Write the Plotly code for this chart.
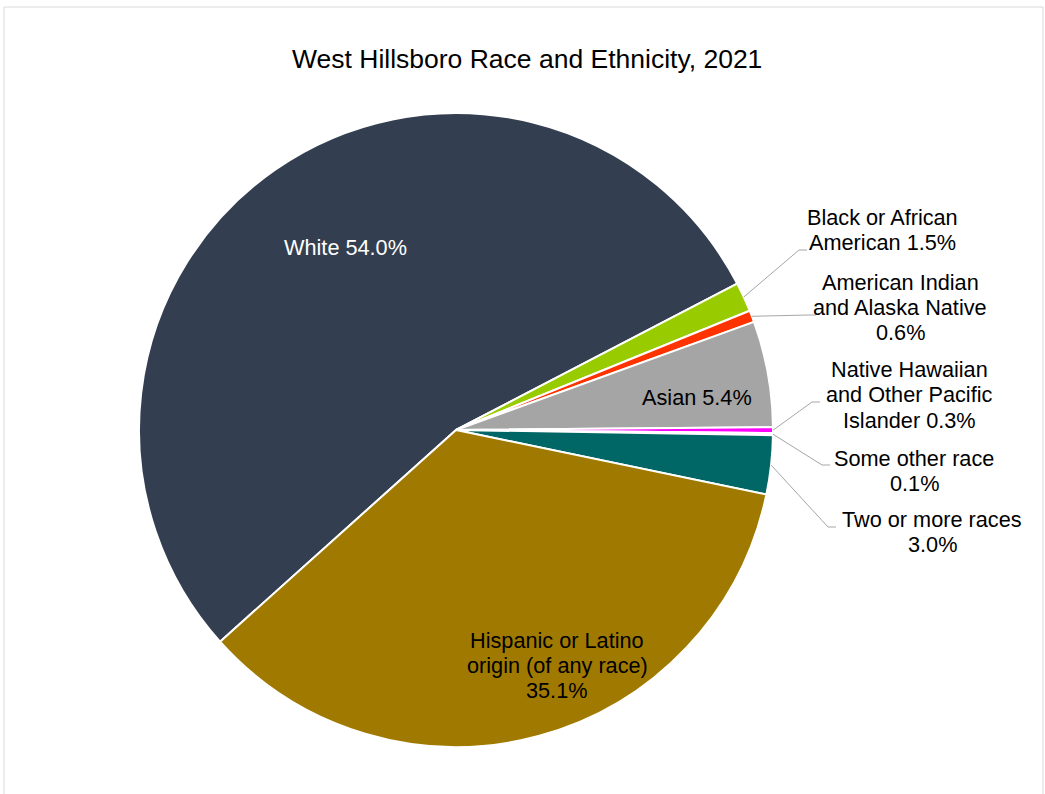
import math
import plotly.graph_objects as go

# ---------------- data ----------------
categories = [
    "White",
    "Black or African American",
    "American Indian and Alaska Native",
    "Asian",
    "Native Hawaiian and Other Pacific Islander",
    "Some other race",
    "Two or more races",
    "Hispanic or Latino origin (of any race)",
]
values = [54.0, 1.5, 0.6, 5.4, 0.3, 0.1, 3.0, 35.1]
label_text = [
    ["White {v}"],
    ["Black or African", "American {v}"],
    ["American Indian", "and Alaska Native", "{v}"],
    ["Asian {v}"],
    ["Native Hawaiian", "and Other Pacific", "Islander {v}"],
    ["Some other race", "{v}"],
    ["Two or more races", "{v}"],
    ["Hispanic or Latino", "origin (of any race)", "{v}"],
]
title = "West Hillsboro Race and Ethnicity, 2021"

# ---------------- style / layout ----------------
colors = ["#333F50", "#99CC00", "#FF3300", "#A5A5A5", "#FF00FF", "#FFFFFF", "#006666", "#A07A00"]
label_colors = ["#FFFFFF", "#000000", "#000000", "#000000", "#000000", "#000000", "#000000", "#000000"]
W, H = 1045, 794
CX, CY, R = 456, 430, 317
ROT = 228.1
FONT = "Liberation Sans, Arial, sans-serif"
FS = 21.7
LINE_H = 25
# label block centres (px) and leader-line knee points (px) -- layout only
label_centres = [(345, 247), (882, 230), (900, 308), (697, 397), (909, 395), (914, 471), (932, 532), (557, 665)]
knees = [None, (799, 250), (808, 315), None, (812, 402), (822, 465), (828, 527), None]


def px(x):
    return x / W


def py(y):
    return 1 - y / H


fig = go.Figure(
    go.Pie(
        labels=categories,
        values=values,
        sort=False,
        direction="clockwise",
        rotation=ROT,
        marker=dict(colors=colors, line=dict(color="#FFFFFF", width=2)),
        textinfo="none",
        hoverinfo="label+percent",
        showlegend=False,
        domain=dict(x=[px(CX - R), px(CX + R)], y=[py(CY + R), py(CY - R)]),
    )
)

annotations = []
shapes = []
total = sum(values)
cum = 0.0
for i, v in enumerate(values):
    mid = cum + v / 2
    cum += v
    lines = [s.format(v=f"{v / total * 100:.1f}%") for s in label_text[i]]
    bx, by = label_centres[i]
    n = len(lines)
    for j, line in enumerate(lines):
        ly = by + (j - (n - 1) / 2) * LINE_H
        annotations.append(
            dict(
                x=px(bx), y=py(ly), xref="paper", yref="paper",
                text=line, showarrow=False, xanchor="center", yanchor="middle",
                font=dict(family=FONT, size=FS, color=label_colors[i]),
            )
        )
    if knees[i] is not None:
        ang = math.radians(90 - (ROT + mid / total * 360))
        ax = CX + R * math.cos(ang)
        ay = CY - R * math.sin(ang)
        kx, ky = knees[i]
        path = f"M {px(ax)} {py(ay)} L {px(kx)} {py(ky)} L {px(kx + 8)} {py(ky)}"
        shapes.append(dict(type="path", xref="paper", yref="paper", path=path,
                           line=dict(color="#A6A6A6", width=1)))

# chart border
shapes.append(dict(type="rect", xref="paper", yref="paper",
                   x0=px(4), x1=px(1043), y0=-0.02, y1=py(7),
                   line=dict(color="#D9D9D9", width=1), fillcolor="rgba(0,0,0,0)"))

annotations.append(
    dict(x=px(527), y=py(59), xref="paper", yref="paper", text=title, showarrow=False,
         xanchor="center", yanchor="middle", font=dict(family=FONT, size=26.5, color="#000000"))
)

fig.update_layout(
    width=W, height=H,
    margin=dict(l=0, r=0, t=0, b=0),
    paper_bgcolor="#FFFFFF",
    plot_bgcolor="#FFFFFF",
    annotations=annotations,
    shapes=shapes,
)

fig.write_html("out.html")
